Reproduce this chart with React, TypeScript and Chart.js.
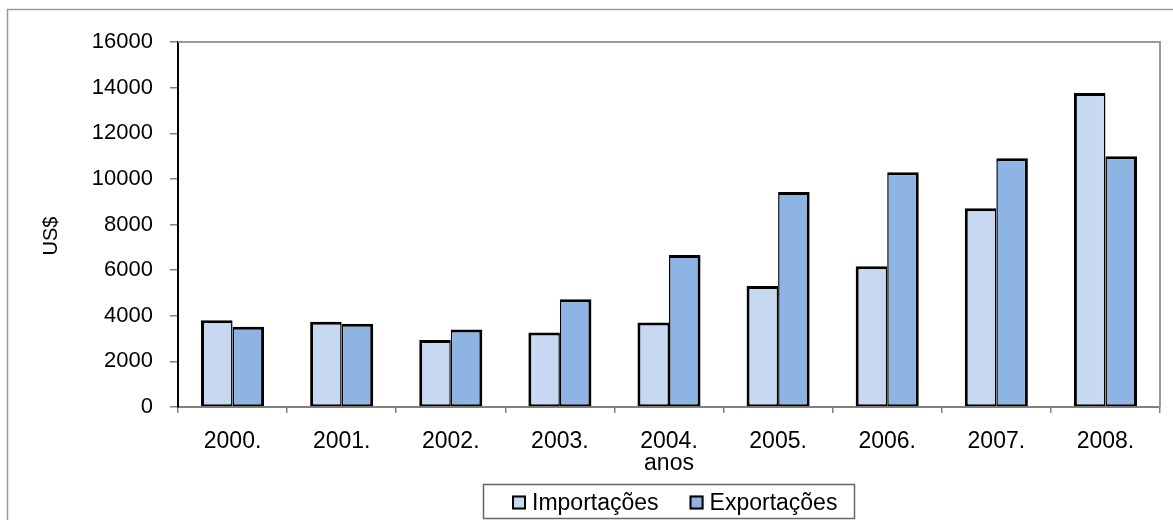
import React, { useEffect, useRef } from "react";
import { Chart, registerables } from "chart.js";

Chart.register(...registerables);

const categories = ["2000.", "2001.", "2002.", "2003.", "2004.", "2005.", "2006.", "2007.", "2008."];
const importacoes = [3800, 3740, 2940, 3270, 3700, 5300, 6170, 8710, 13760];
const exportacoes = [3520, 3650, 3400, 4720, 6660, 9420, 10290, 10900, 10990];
const seriesLabels = ["Importações", "Exportações"];
const seriesColors = ["#C6D9F1", "#8EB4E3"];
const yTitle = "US$";
const xTitle = "anos";
const yMin = 0;
const yMax = 16000;
const yStep = 2000;

const FONT = "'Liberation Sans', Arial, sans-serif";

const framePlugin = {
  id: "framePlugin",
  afterDraw(chart: any) {
    const ctx = chart.ctx;
    const ca = chart.chartArea;
    ctx.save();
    // outer frame
    ctx.strokeStyle = "#9a9a9a";
    ctx.lineWidth = 1.5;
    ctx.beginPath();
    ctx.moveTo(7.5, 520);
    ctx.lineTo(7.5, 9.5);
    ctx.lineTo(1173, 9.5);
    ctx.stroke();
    // plot area top & right
    ctx.strokeStyle = "#9a9a9a";
    ctx.lineWidth = 2;
    ctx.beginPath();
    ctx.moveTo(ca.left, ca.top);
    ctx.lineTo(ca.right, ca.top);
    ctx.lineTo(ca.right, ca.bottom);
    ctx.stroke();
    // y title
    ctx.fillStyle = "#000";
    ctx.font = `20px ${FONT}`;
    ctx.textAlign = "center";
    ctx.textBaseline = "middle";
    ctx.translate(51, 236);
    ctx.rotate(-Math.PI / 2);
    ctx.fillText(yTitle, 0, 0);
    ctx.restore();

    // legend
    ctx.save();
    ctx.strokeStyle = "#666";
    ctx.lineWidth = 1.5;
    ctx.strokeRect(483.5, 484.5, 371, 34);
    ctx.font = `23px ${FONT}`;
    ctx.textBaseline = "middle";
    ctx.textAlign = "left";
    let x = 512;
    const cy = 502.5;
    chart.data.datasets.forEach((ds: any) => {
      const sw = 14;
      ctx.fillStyle = ds.backgroundColor;
      ctx.fillRect(x, cy - sw / 2, sw, sw);
      ctx.strokeStyle = "#000";
      ctx.lineWidth = 2;
      ctx.strokeRect(x + 1, cy - sw / 2 + 1, sw - 2, sw - 2);
      ctx.fillStyle = "#000";
      ctx.fillText(ds.label, x + sw + 6, cy + 1);
      const w = ctx.measureText(ds.label).width;
      x += sw + 6 + w + 31;
    });
    ctx.restore();
  },
};

export default function App() {
  const ref = useRef<HTMLCanvasElement>(null);
  useEffect(() => {
    document.body.style.margin = "0";
    const canvas = ref.current!;
    const chart = new Chart(canvas, {
      type: "bar",
      data: {
        labels: categories,
        datasets: [
          {
            label: seriesLabels[0],
            data: importacoes,
            backgroundColor: seriesColors[0],
            borderColor: "#000",
            borderWidth: { top: 3, left: 3, right: 1.5, bottom: 2 },
            borderSkipped: false,
            categoryPercentage: 0.578,
            barPercentage: 1,
          },
          {
            label: seriesLabels[1],
            data: exportacoes,
            backgroundColor: seriesColors[1],
            borderColor: "#000",
            borderWidth: { top: 3, left: 1.5, right: 3, bottom: 2 },
            borderSkipped: false,
            categoryPercentage: 0.578,
            barPercentage: 1,
          },
        ],
      },
      options: {
        responsive: false,
        animation: false,
        devicePixelRatio: 1,
        layout: { padding: { left: 0, top: 42, right: 13, bottom: 0 } },
        plugins: {
          legend: { display: false },
          tooltip: { enabled: false },
        },
        scales: {
          x: {
            grid: {
              display: true,
              offset: true,
              drawOnChartArea: false,
              drawTicks: true,
              tickLength: 6,
              color: "#808080",
              lineWidth: 1.5,
            },
            border: { display: true, color: "#808080", width: 2 },
            ticks: {
              color: "#000",
              font: { family: FONT, size: 23 },
              padding: 15,
              maxRotation: 0,
            },
            title: {
              display: true,
              text: xTitle,
              color: "#000",
              font: { family: FONT, size: 23 },
              padding: { top: 0, bottom: 43 },
            },
            afterFit: (scale: any) => {
              scale.height = 113;
            },
          },
          y: {
            min: yMin,
            max: yMax,
            grid: {
              display: true,
              drawOnChartArea: false,
              drawTicks: true,
              tickLength: 8,
              color: "#808080",
              lineWidth: 1.5,
            },
            border: { display: true, color: "#000", width: 2 },
            ticks: {
              stepSize: yStep,
              color: "#000",
              font: { family: FONT, size: 22 },
              padding: 17,
              callback: (v: any) => String(v),
            },
            afterFit: (scale: any) => {
              scale.width = 178;
            },
          },
        },
      },
      plugins: [framePlugin],
    });
    return () => chart.destroy();
  }, []);
  return (
    <div style={{ width: 1173, height: 520 }}>
      <canvas ref={ref} width={1173} height={520} style={{ display: "block" }} />
    </div>
  );
}
